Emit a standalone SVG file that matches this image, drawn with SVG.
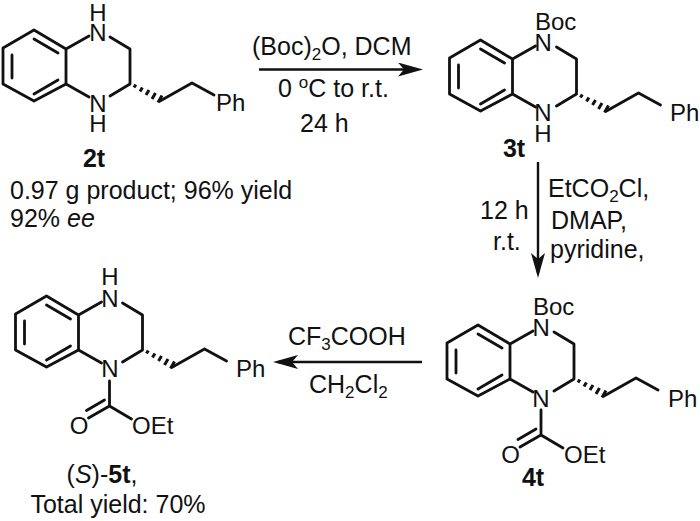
<svg xmlns="http://www.w3.org/2000/svg" width="700" height="521" viewBox="0 0 700 521">
<style>
text{font-family:"Liberation Sans",Arial,sans-serif;font-size:25px;fill:#111}
.l{font-size:24px}
.b{font-weight:bold}
.m{text-anchor:middle}
.u{font-size:17px}
.s{fill:none;stroke:#111;stroke-width:2.8;stroke-linecap:round;stroke-linejoin:round}
.w{fill:none;stroke:#111;stroke-width:3}
.a{fill:none;stroke:#111;stroke-width:2.4}
</style>
<defs>
<g id="core">
<path class="s" d="M66 49L34 30L3 48V84L34 101L66 84ZM58 53L34 39M12 55V78M58 80L34 94M66 49L89 36M110 37L130 49V84L110 96M66 84L89 97"/>
<path class="s" d="M160 101L192 83L214 95"/>
<path class="w" d="M134 87.500l1.800-3M140 91.500l2.400-4M146 95l3-5M152 99l3.500-6M158 102.500l4-7"/>
</g>
<g id="carb">
<path class="s" d="M97 115V140M97 140L76 152M92 134L74 144.500M97 140L119 153"/>
</g>
<marker id="ah" markerUnits="userSpaceOnUse" markerWidth="27" markerHeight="16" refX="20" refY="7" orient="auto"><path d="M0 0L25 7L0 14L6 7Z" fill="#111"/></marker>
</defs>

<g id="connectors">
<line class="a" x1="259" y1="69.500" x2="418" y2="69.500" marker-end="url(#ah)"/>
<line class="a" x1="538" y1="162" x2="538" y2="273" marker-end="url(#ah)"/>
<line class="a" x1="422" y1="362" x2="278" y2="362" marker-end="url(#ah)"/>
</g>

<g id="node-2t">
<use href="#core"/>
<text class="l m"><tspan x="98" y="21">H</tspan><tspan x="98" y="41">N</tspan></text>
<text class="l m"><tspan x="98" y="112">N</tspan><tspan x="98" y="132">H</tspan></text>
<text class="l" x="216" y="111">Ph</text>
<text class="b m" x="94" y="167">2t</text>
<text><tspan x="10" y="199">0.97 g product; 96% yield</tspan><tspan x="10" y="227">92% </tspan><tspan font-style="italic">ee</tspan></text>
</g>

<g id="node-3t">
<g transform="translate(446.500 10)"><use href="#core"/></g>
<text class="l"><tspan x="535" y="30">Boc</tspan><tspan x="534.500" y="51">N</tspan></text>
<text class="l m"><tspan x="543" y="121">N</tspan><tspan x="543" y="142">H</tspan></text>
<text class="l" x="670" y="121">Ph</text>
<text class="b m" x="514" y="157">3t</text>
</g>

<g id="node-4t">
<g transform="translate(444 295)"><use href="#core"/><use href="#carb"/></g>
<text class="l"><tspan x="533" y="315">Boc</tspan><tspan x="532.500" y="336">N</tspan></text>
<text class="l m" x="541" y="407">N</text>
<text class="l" x="668" y="407">Ph</text>
<text class="l m" x="510.500" y="463">O</text>
<text class="l" x="564" y="463">OEt</text>
<text class="b m" x="533" y="486">4t</text>
</g>

<g id="node-5t">
<g transform="translate(12.500 266)"><use href="#core"/><use href="#carb"/></g>
<text class="l m"><tspan x="110" y="285">H</tspan><tspan x="110" y="307">N</tspan></text>
<text class="l m" x="110" y="377">N</text>
<text class="l" x="236" y="377">Ph</text>
<text class="l m" x="79" y="434">O</text>
<text class="l" x="132" y="434">OEt</text>
<text class="m" x="102" y="483">(<tspan font-style="italic">S</tspan>)-<tspan class="b">5t</tspan>,</text>
<text class="m" x="118" y="513">Total yield: 70%</text>
</g>

<g id="labels">
<text x="252" y="55">(Boc)<tspan class="u" dy="5">2</tspan><tspan dy="-5">O, DCM</tspan></text>
<text x="278" y="97">0 <tspan class="u" dy="-9">o</tspan><tspan dy="9">C to r.t.</tspan></text>
<text x="300" y="132">24 h</text>
<text><tspan x="548" y="197">EtCO</tspan><tspan class="u" dy="5">2</tspan><tspan dy="-5">Cl,</tspan><tspan x="551" y="229">DMAP,</tspan><tspan x="550" y="258">pyridine,</tspan></text>
<text><tspan x="480" y="219">12 h</tspan><tspan x="493" y="250">r.t.</tspan></text>
<text x="288" y="345">CF<tspan class="u" dy="5">3</tspan><tspan dy="-5">COOH</tspan></text>
<text x="309" y="393">CH<tspan class="u" dy="5">2</tspan><tspan dy="-5">Cl</tspan><tspan class="u" dy="5">2</tspan></text>
</g>
</svg>
